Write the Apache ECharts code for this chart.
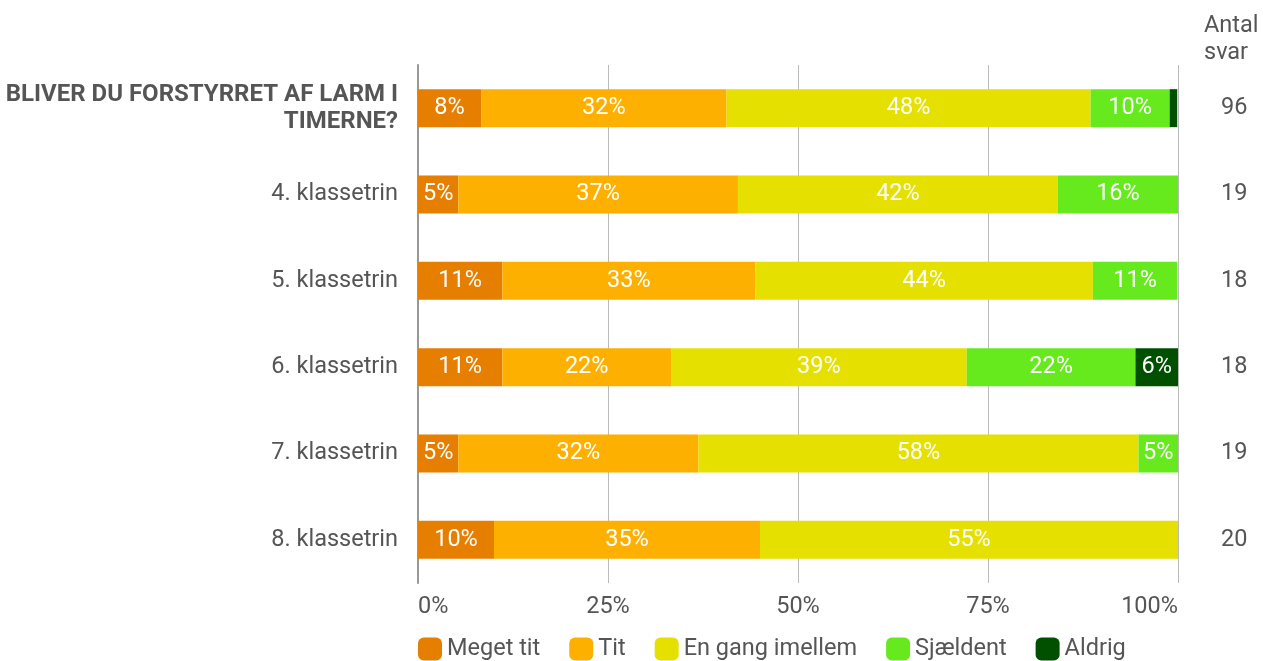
<!DOCTYPE html>
<html><head><meta charset="utf-8">
<script src="https://cdn.jsdelivr.net/npm/echarts@6/dist/echarts.min.js"></script>
<style>html,body{margin:0;padding:0;background:#fff}#c{width:1263px;height:661px}</style>
</head><body><div id="c"></div>
<script>
const categories = ['BLIVER DU FORSTYRRET AF LARM I TIMERNE?', '4. klassetrin', '5. klassetrin', '6. klassetrin', '7. klassetrin', '8. klassetrin'];
const antalSvar = ['96', '19', '18', '18', '19', '20'];
const seriesNames = ['Meget tit', 'Tit', 'En gang imellem', 'Sjældent', 'Aldrig'];
const megetTit = [8.3, 5.3, 11.1, 11.1, 5.3, 10];
const tit = [32.3, 36.8, 33.3, 22.2, 31.6, 35];
const enGang = [47.9, 42.1, 44.4, 38.9, 57.9, 55];
const sjaeldent = [10.4, 15.8, 11.1, 22.2, 5.3, 0];
const aldrig = [1.0, 0, 0, 5.6, 0, 0];
const xTicks = ['0%', '25%', '50%', '75%', '100%'];
const colors = ['#E67E00', '#FDB000', '#E6E000', '#66EA1E', '#005000'];

const FONT = 'Roboto';
const FS = 23.5;
const values = [megetTit, tit, enGang, sjaeldent, aldrig];
const chart = echarts.init(document.getElementById('c'));
chart.setOption({
  animation: false,
  textStyle: { fontFamily: FONT },
  grid: { left: 418, right: 85, top: 65, bottom: 78, containLabel: false },
  legend: {
    left: 413, top: 632, itemWidth: 24, itemHeight: 23, itemGap: 29, icon: 'roundRect',
    textStyle: { fontFamily: FONT, fontSize: FS, color: '#555' },
    data: seriesNames
  },
  graphic: [{
    type: 'text', left: 1204, top: 13,
    style: { text: 'Antal\nsvar', font: FS + 'px Roboto', fill: '#555', align: 'center', lineHeight: 27, width: 58 }
  }],
  xAxis: {
    type: 'value', min: 0, max: 100, interval: 25,
    axisLine: { show: false }, axisTick: { show: false },
    splitLine: { lineStyle: { color: '#bbb', width: 1 } },
    axisLabel: {
      fontSize: FS, color: '#555', margin: 12, fontFamily: FONT,
      alignMinLabel: 'left', alignMaxLabel: 'right',
      formatter: (v) => xTicks[Math.round(v / 25)]
    }
  },
  yAxis: [{
    type: 'category', inverse: true, data: categories,
    axisLine: { show: true, lineStyle: { color: '#999', width: 2 } },
    axisTick: { show: false },
    axisLabel: {
      fontSize: FS, color: '#555', margin: 20, fontFamily: FONT,
      formatter: (v, i) => i === 0 ? '{b|BLIVER DU FORSTYRRET AF LARM I}\n{b|TIMERNE?}' : v,
      rich: { b: { fontSize: 24, fontWeight: 'bold', color: '#555', fontFamily: FONT, lineHeight: 27, align: 'right' } }
    }
  }, {
    type: 'category', inverse: true, position: 'right', data: antalSvar,
    axisLine: { show: false }, axisTick: { show: false },
    axisLabel: { fontSize: FS, color: '#555', margin: 43, fontFamily: FONT }
  }],
  series: seriesNames.map((name, k) => ({
    name, type: 'bar', stack: 'total', barWidth: 38,
    itemStyle: { color: colors[k] },
    label: {
      show: true, position: 'inside', color: '#fff', fontSize: FS, fontFamily: FONT,
      formatter: (p) => p.value >= 3 ? Math.round(p.value) + '%' : ''
    },
    data: values[k]
  }))
});
</script></body></html>
